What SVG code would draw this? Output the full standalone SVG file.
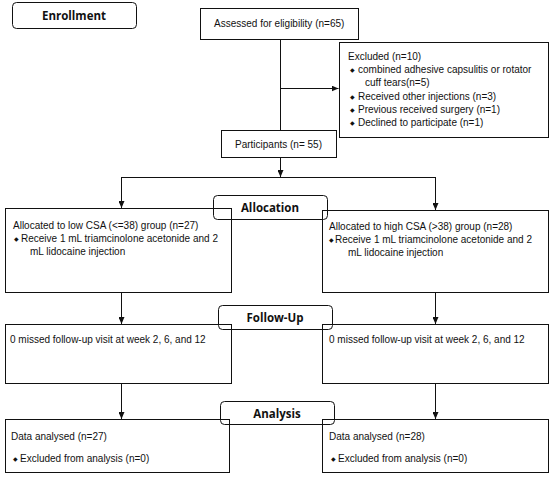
<svg xmlns="http://www.w3.org/2000/svg" width="550" height="482" viewBox="0 0 550 482">
<style>
.box{fill:#fff;stroke:#111;stroke-width:1}
.lbl{fill:none;stroke:#111;stroke-width:1}
.t{font-family:"Liberation Sans",Arial,sans-serif;font-size:10px;fill:#111}
.b{font-family:"Liberation Sans",Arial,sans-serif;font-size:6px;fill:#111}
.h{font-family:"Open Sans","Noto Sans",sans-serif;font-size:11.5px;font-weight:bold;fill:#111;text-anchor:middle}
.ln{fill:none;stroke:#111;stroke-width:1}
</style>
<defs>
<marker id="ah" markerWidth="7" markerHeight="6" refX="7" refY="3" orient="auto" markerUnits="userSpaceOnUse">
<path d="M0,0 L7,3 L0,6 Z" fill="#111"/>
</marker>
</defs>
<rect width="550" height="482" fill="#fff"/>
<g id="connectors">
<path class="ln" d="M280.5,39 V177" marker-end="url(#ah)"/>
<path class="ln" d="M280.5,88.5 H338.5" marker-end="url(#ah)"/>
<path class="ln" d="M121.5,177.5 H435.5"/>
<path class="ln" d="M121.5,177 V208" marker-end="url(#ah)"/>
<path class="ln" d="M435.5,177 V210" marker-end="url(#ah)"/>
<path class="ln" d="M121.5,292 V324" marker-end="url(#ah)"/>
<path class="ln" d="M435.5,292 V324" marker-end="url(#ah)"/>
<path class="ln" d="M121.5,383 V419" marker-end="url(#ah)"/>
<path class="ln" d="M435.5,383 V419" marker-end="url(#ah)"/>
</g>
<g id="enrollment">
<rect class="lbl" x="12.5" y="2.5" width="124" height="26" rx="4"/>
<text class="h" x="74" y="20">Enrollment</text>
</g>
<g id="assessed">
<rect class="box" x="200.5" y="8.5" width="158" height="31"/>
<text class="t" x="214" y="27">Assessed for eligibility (n=65)</text>
</g>
<g id="excluded">
<rect class="box" x="339.5" y="42.5" width="209" height="95"/>
<text class="t" x="348" y="60">Excluded (n=10)</text>
<text class="b" x="350" y="72">◆</text><text class="t" x="358" y="73">combined adhesive capsulitis or rotator</text>
<text class="t" x="365" y="86">cuff tears(n=5)</text>
<text class="b" x="350" y="99">◆</text><text class="t" x="358" y="100">Received other injections (n=3)</text>
<text class="b" x="350" y="112">◆</text><text class="t" x="358" y="113">Previous received surgery (n=1)</text>
<text class="b" x="350" y="125">◆</text><text class="t" x="358" y="126">Declined to participate (n=1)</text>
</g>
<g id="participants">
<rect class="box" x="221.5" y="130.5" width="115" height="27"/>
<text class="t" x="235" y="148">Participants (n= 55)</text>
</g>
<g id="alloc-low">
<rect class="box" x="5.5" y="208.5" width="226" height="84"/>
<text class="t" x="13" y="229">Allocated to low CSA (&lt;=38) group (n=27)</text>
<text class="b" x="14" y="241">◆</text><text class="t" x="21" y="242">Receive 1 mL triamcinolone acetonide and 2</text>
<text class="t" x="30" y="255">mL lidocaine injection</text>
</g>
<g id="alloc-high">
<rect class="box" x="322.5" y="210.5" width="226" height="82"/>
<text class="t" x="329" y="230">Allocated to high CSA (&gt;38) group (n=28)</text>
<text class="b" x="329" y="242">◆</text><text class="t" x="335" y="243">Receive 1 mL triamcinolone acetonide and 2</text>
<text class="t" x="348" y="256">mL lidocaine injection</text>
</g>
<g id="allocation">
<rect class="lbl" x="213.5" y="195.5" width="114" height="24" rx="4"/>
<text class="h" x="270" y="212">Allocation</text>
</g>
<g id="follow-low">
<rect class="box" x="5.5" y="324.5" width="226" height="59"/>
<text class="t" x="10" y="343">0 missed follow-up visit at week 2, 6, and 12</text>
</g>
<g id="follow-high">
<rect class="box" x="322.5" y="324.5" width="226" height="59"/>
<text class="t" x="329" y="343">0 missed follow-up visit at week 2, 6, and 12</text>
</g>
<g id="followup">
<rect class="lbl" x="218.5" y="305.5" width="114" height="24" rx="4"/>
<text class="h" x="275" y="322">Follow-Up</text>
</g>
<g id="data-low">
<rect class="box" x="5.5" y="419.5" width="224" height="53"/>
<text class="t" x="11" y="440">Data analysed (n=27)</text>
<text class="b" x="13" y="461">◆</text><text class="t" x="20" y="462">Excluded from analysis (n=0)</text>
</g>
<g id="data-high">
<rect class="box" x="322.5" y="419.5" width="226" height="53"/>
<text class="t" x="329" y="440">Data analysed (n=28)</text>
<text class="b" x="331" y="461">◆</text><text class="t" x="338" y="462">Excluded from analysis (n=0)</text>
</g>
<g id="analysis">
<rect class="lbl" x="220.5" y="401.5" width="114" height="23" rx="4"/>
<text class="h" x="277" y="418">Analysis</text>
</g>
</svg>
